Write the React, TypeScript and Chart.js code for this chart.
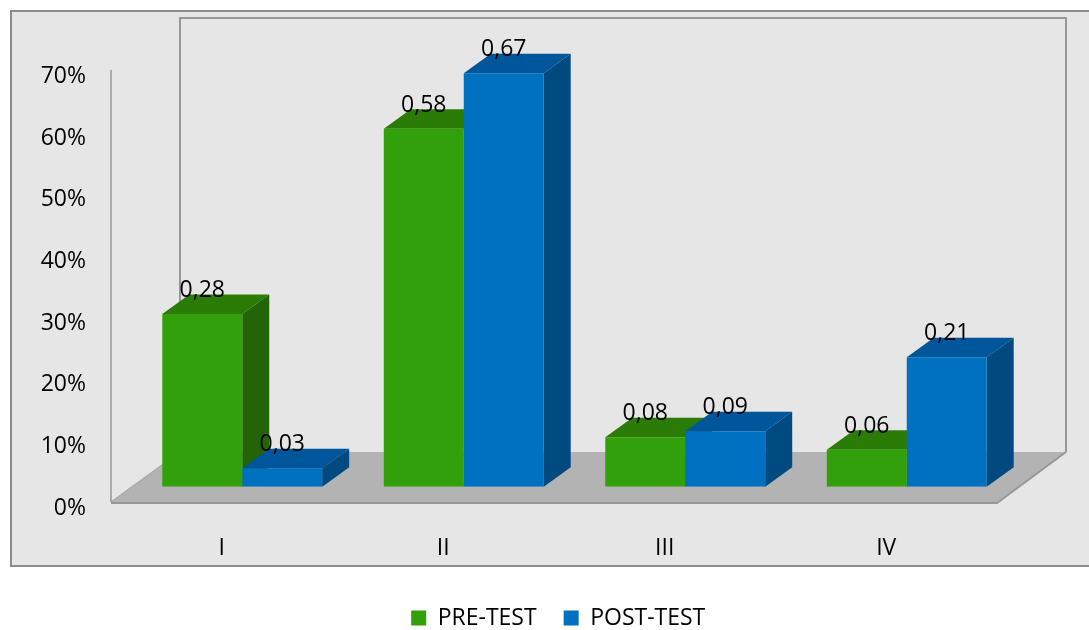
import { useEffect, useRef } from 'react';
import { Chart, registerables } from 'chart.js';

Chart.register(...registerables);

// Categories and series values (shares, 0..1)
const categories = ['I', 'II', 'III', 'IV'];
const preTest = [0.28, 0.58, 0.08, 0.06];
const postTest = [0.03, 0.67, 0.09, 0.21];
const seriesNames = ['PRE-TEST', 'POST-TEST'];
const yMin = 0;
const yMax = 0.7;
const yStep = 0.1;

const FONT_FAMILY = '"Open Sans", Lato, sans-serif';
const FONT_SIZE = 23;

// Face colours for each series: front, top, side
const faceColors = [
  { front: '#32a00a', top: '#2b7c07', side: '#226407' },
  { front: '#0070c0', top: '#00569b', side: '#004a80' },
];

// Oblique projection: bar depth, and floor front/back planes relative to the bar plane
const BAR_DEPTH = { dx: 27, dy: -19.5 };
const FRONT_PLANE = { dx: -20.5, dy: 15.3 };
const BACK_PLANE = { dx: 48.5, dy: -34.7 };

const fmtValue = (v: number) => v.toFixed(2).replace('.', ',');

function poly(ctx: CanvasRenderingContext2D, pts: number[][], fill: string) {
  ctx.beginPath();
  ctx.moveTo(pts[0][0], pts[0][1]);
  for (let i = 1; i < pts.length; i++) ctx.lineTo(pts[i][0], pts[i][1]);
  ctx.closePath();
  ctx.fillStyle = fill;
  ctx.fill();
}

// Panel, back wall, left wall edge and floor
const scenePlugin = {
  id: 'scene3d',
  beforeDraw(chart: any) {
    const { ctx, chartArea: a, scales, width, height } = chart;
    const yS = scales.y;
    const base = yS.getPixelForValue(yMin);
    const top = yS.getPixelForValue(yMax);
    ctx.save();
    ctx.fillStyle = '#ffffff';
    ctx.fillRect(0, 0, width, height);

    // outer panel
    ctx.fillStyle = '#e6e6e6';
    ctx.fillRect(11, 11, width, 555);
    ctx.strokeStyle = '#8c8c8c';
    ctx.lineWidth = 2;
    ctx.strokeRect(11, 11, width + 20, 555);

    // back wall
    const bl = a.left + BACK_PLANE.dx;
    const br = a.right + BACK_PLANE.dx;
    const bt = top + BACK_PLANE.dy - 2;
    const bb = base + BACK_PLANE.dy;
    ctx.strokeStyle = '#979797';
    ctx.lineWidth = 2;
    ctx.beginPath();
    ctx.moveTo(bl, bb);
    ctx.lineTo(bl, bt);
    ctx.lineTo(br, bt);
    ctx.lineTo(br, bb);
    ctx.stroke();

    // floor
    const fl = a.left + FRONT_PLANE.dx;
    const fr = a.right + FRONT_PLANE.dx;
    const fb = base + FRONT_PLANE.dy;
    poly(ctx, [[fl, fb], [fr, fb], [br, bb], [bl, bb]], '#b3b3b3');
    ctx.lineWidth = 1.2;
    ctx.strokeStyle = '#a8a8a8';
    ctx.beginPath();
    ctx.moveTo(fl, fb);
    ctx.lineTo(bl, bb);
    ctx.stroke();
    ctx.lineWidth = 2;
    ctx.strokeStyle = '#979797';
    ctx.beginPath();
    ctx.moveTo(fl, fb + 1);
    ctx.lineTo(fr, fb + 1);
    ctx.lineTo(br, bb);
    ctx.stroke();

    // left wall front edge
    ctx.strokeStyle = '#999999';
    ctx.lineWidth = 1.5;
    ctx.beginPath();
    ctx.moveTo(fl, top + FRONT_PLANE.dy);
    ctx.lineTo(fl, fb);
    ctx.stroke();
    ctx.restore();
  },
};

// Top and side faces of every bar, drawn before the front faces
const barFacesPlugin = {
  id: 'barFaces',
  beforeDatasetsDraw(chart: any) {
    const { ctx } = chart;
    const { dx, dy } = BAR_DEPTH;
    ctx.save();
    chart.data.datasets.forEach((_ds: any, di: number) => {
      const meta = chart.getDatasetMeta(di);
      meta.data.forEach((bar: any) => {
        const { x, y, base, width } = bar.getProps(['x', 'y', 'base', 'width'], true);
        const l = x - width / 2;
        const r = x + width / 2;
        poly(ctx, [[l, y], [r, y], [r + dx, y + dy], [l + dx, y + dy]], faceColors[di].top);
        poly(ctx, [[r, y], [r, base], [r + dx, base + dy], [r + dx, y + dy]], faceColors[di].side);
      });
    });
    ctx.restore();
  },
};

// Value labels above the bars
const valueLabelsPlugin = {
  id: 'valueLabels',
  afterDatasetsDraw(chart: any) {
    const { ctx } = chart;
    ctx.save();
    ctx.font = `${FONT_SIZE}px ${FONT_FAMILY}`;
    ctx.fillStyle = '#000000';
    ctx.textAlign = 'center';
    ctx.textBaseline = 'alphabetic';
    chart.data.datasets.forEach((ds: any, di: number) => {
      const meta = chart.getDatasetMeta(di);
      meta.data.forEach((bar: any, i: number) => {
        const { x, y } = bar.getProps(['x', 'y'], true);
        ctx.fillText(fmtValue(ds.data[i]), x, y - 17);
      });
    });
    ctx.restore();
  },
};

// Place the legend row in the white strip under the panel
const legendPlacePlugin = {
  id: 'legendPlace',
  afterLayout(chart: any) {
    const lg = chart.legend;
    if (lg) {
      lg.top += 9.5;
      lg.bottom += 9.5;
      lg.left += 49.5;
      lg.right += 49.5;
    }
  },
};

export default function App() {
  const canvasRef = useRef<HTMLCanvasElement | null>(null);

  useEffect(() => {
    const canvas = canvasRef.current;
    if (!canvas) return;
    const font = { family: FONT_FAMILY, size: FONT_SIZE };
    const chart = new Chart(canvas, {
      type: 'bar',
      data: {
        labels: categories,
        datasets: [
          { label: seriesNames[0], data: preTest, backgroundColor: faceColors[0].front, borderWidth: 0 },
          { label: seriesNames[1], data: postTest, backgroundColor: faceColors[1].front, borderWidth: 0 },
        ],
      },
      options: {
        animation: false,
        responsive: false,
        devicePixelRatio: 1,
        layout: { padding: { left: 0, right: 71.5, top: 54.8, bottom: 0 } },
        datasets: { bar: { categoryPercentage: 0.722, barPercentage: 1 } },
        plugins: {
          legend: {
            position: 'bottom',
            labels: { boxWidth: 15, boxHeight: 15, padding: 27, color: '#000000', font },
          },
          tooltip: { enabled: false },
        },
        scales: {
          x: {
            grid: { display: false, drawTicks: false },
            border: { display: false },
            ticks: { padding: 47.5, labelOffset: FRONT_PLANE.dx, color: '#000000', font },
            afterFit: (s: any) => {
              s.height = 83.3;
            },
          },
          y: {
            min: yMin,
            max: yMax,
            grid: { display: false, drawTicks: false },
            border: { display: false },
            ticks: {
              stepSize: yStep,
              padding: 45.5,
              labelOffset: 21.5,
              color: '#000000',
              font,
              callback: (v: any) => `${Math.round(Number(v) * 100)}%`,
            },
            afterFit: (s: any) => {
              s.width = 131.5;
              s.paddingTop = 14;
              s.paddingBottom = 14;
            },
          },
        },
      } as any,
      plugins: [scenePlugin, barFacesPlugin, valueLabelsPlugin, legendPlacePlugin],
    });
    return () => chart.destroy();
  }, []);

  return (
    <canvas
      ref={canvasRef}
      width={1089}
      height={630}
      style={{ position: 'absolute', left: 0, top: 0, display: 'block' }}
    />
  );
}
